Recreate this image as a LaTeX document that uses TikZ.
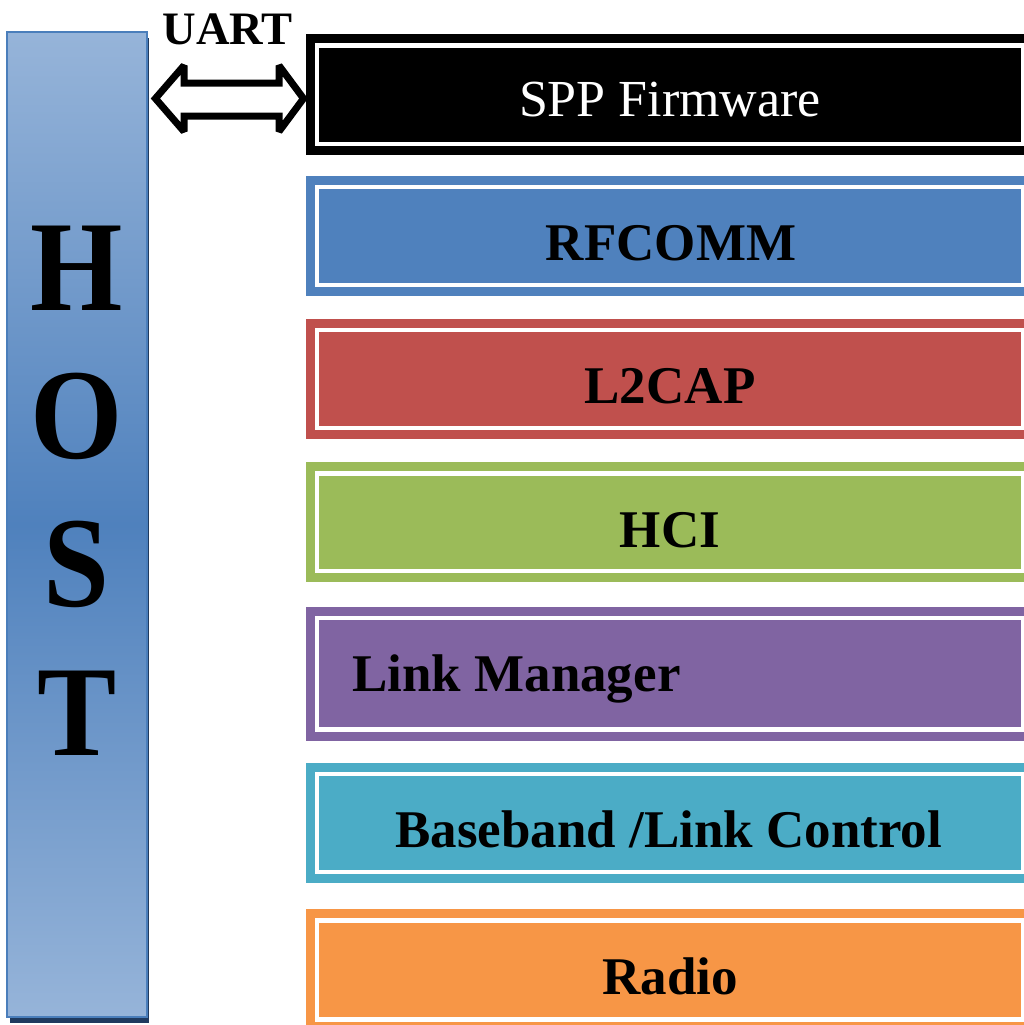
\documentclass[tikz,border=0pt]{standalone}
\usepackage{fontspec}
\setmainfont{Liberation Serif}
\definecolor{hostlight}{HTML}{96B4D9}
\definecolor{hostmid}{HTML}{4F81BD}
\definecolor{hostedge}{HTML}{4A7EBB}
\definecolor{hostshadow}{HTML}{1F3A5F}
\definecolor{rfblue}{HTML}{4F81BD}
\definecolor{l2red}{HTML}{C0504D}
\definecolor{hcigreen}{HTML}{9BBB59}
\definecolor{lmpurple}{HTML}{8064A2}
\definecolor{bbcyan}{HTML}{4BACC6}
\definecolor{radioorange}{HTML}{F79646}
\begin{document}
\begin{tikzpicture}[x=1pt,y=-1pt,
  layerbox/.style={rectangle, fill=#1, draw=#1, line width=9pt,
    double=white, double distance=4.4pt, inner sep=0pt, outer sep=0pt,
    minimum width=705.8pt, anchor=north west},
  boldlabel/.style={font=\bfseries\fontsize{53}{60}\selectfont, text=black, inner sep=0pt},
  hostletter/.style={font=\bfseries\fontsize{129}{140}\selectfont, text=black,
    inner sep=0pt, anchor=base, xscale=0.92, transform shape},
  blockarrow/.style={draw=black, fill=white, line width=7pt, miter limit=2, line join=miter}
]
\useasboundingbox (0,0) rectangle (1024,1025);
\clip (0,0) rectangle (1024,1025);

% host column with its drop shadow
\fill[hostshadow] (10,38) rectangle (148.5,1023);
\node[rectangle, inner sep=0pt, outer sep=0pt, anchor=north west, minimum width=140pt, minimum height=985pt,
  top color=hostlight, bottom color=hostlight, middle color=hostmid,
  draw=hostedge, line width=1.5pt] (host) at (7,32) {};
\node[hostletter] (hH) at (77,310) {H};
\node[hostletter] (hO) at (77,458) {O};
\node[hostletter] (hS) at (77,606) {S};
\node[hostletter] (hT) at (77,755) {T};

% protocol stack layers
\node[layerbox=black, minimum height=98.4pt] (spp) at (317.2,45.7) {};
\node[layerbox=rfblue, minimum height=97.9pt] (rfcomm) at (317.2,186.9) {};
\node[layerbox=l2red, minimum height=97.9pt] (l2cap) at (317.2,330.2) {};
\node[layerbox=hcigreen, minimum height=97.3pt] (hci) at (317.2,473.5) {};
\node[layerbox=lmpurple, minimum height=111.6pt] (lm) at (317.2,617.9) {};
\node[layerbox=bbcyan, minimum height=97.9pt] (bb) at (317.2,773.9) {};
\node[layerbox=radioorange, minimum height=98.8pt] (radio) at (317.2,920.5) {};

% layer names
\node[font=\fontsize{52}{60}\selectfont, text=white, inner sep=0pt, anchor=base] (tspp) at (670,116.7) {SPP Firmware};
\node[boldlabel, anchor=base] (trf) at (671,260.7) {RFCOMM};
\node[boldlabel, anchor=base] (tl2) at (670,403.5) {L2CAP};
\node[boldlabel, anchor=base] (thci) at (670,547) {HCI};
\node[boldlabel, anchor=base west] (tlm) at (352,691.7) {Link Manager};
\node[boldlabel, anchor=base west] (tbb) at (395,847) {Baseband /Link Control};
\node[boldlabel, anchor=base] (tradio) at (670,994) {Radio};

% UART link between host and firmware
\node[font=\bfseries\fontsize{46.5}{50}\selectfont, inner sep=0pt, anchor=base] (uart) at (227.5,45) {UART};
\coordinate (ltip) at (155.4,98.5);
\coordinate (rtip) at (303.5,98.5);
\draw[blockarrow] (ltip) -- (184,65.5) -- (184,83) -- (279,83) -- (279,65.5) -- (rtip)
  -- (279,131.5) -- (279,116) -- (184,116) -- (184,131.5) -- cycle;
\end{tikzpicture}
\end{document}
